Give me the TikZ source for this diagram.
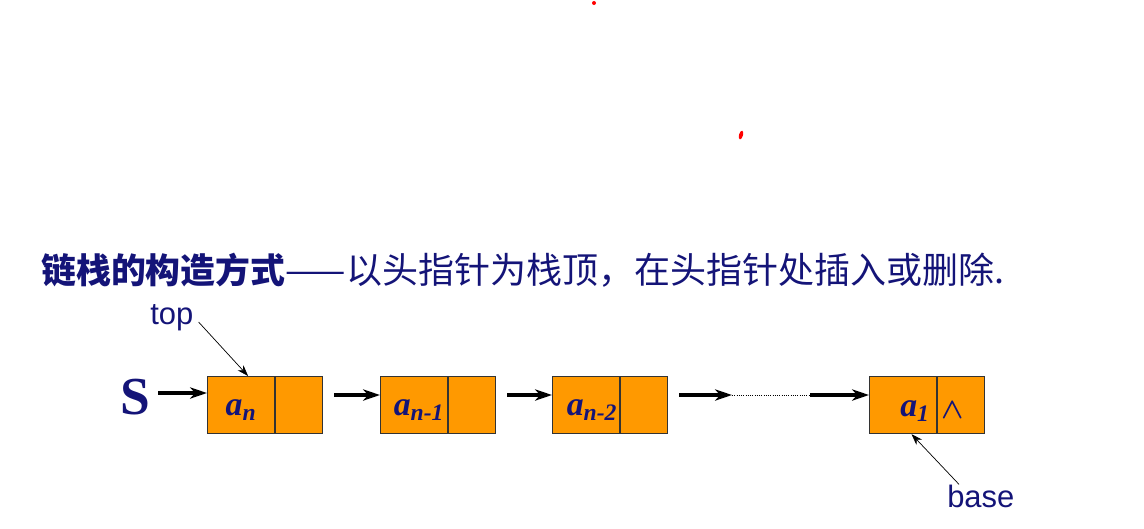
\documentclass[tikz,border=0pt]{standalone}
\usepackage{bm}
\usepackage{fontspec}
\setmainfont{Liberation Serif}
\newfontfamily\cjk{Noto Sans CJK SC}
\newfontfamily\arialfont{Liberation Sans}
\usepackage{xcolor}
\usepackage{tikz}
\usetikzlibrary{arrows.meta,positioning,calc}
\definecolor{navy}{RGB}{20,20,120}
\definecolor{nodeorange}{RGB}{255,153,0}

\begin{document}
\begin{tikzpicture}[x=0.025cm, y=-0.025cm, every node/.style={inner sep=0pt},
  cell/.style={draw=black!80, line width=0.8pt, fill=nodeorange, minimum height=57*0.025cm},
  ptr/.style={line width=2.2pt, -{Stealth[length=12pt,width=8pt,inset=3.5pt]}},
  thinptr/.style={line width=0.5pt, -{Stealth[length=8pt,width=5.5pt]}},
  elem/.style={font=\fontsize{24}{26}\selectfont\bfseries\itshape, text=navy}]
\useasboundingbox (0,0) rectangle (1144,528);
\fill[red] (594,3) circle (2);
\fill[red, rotate around={75:(741,135)}] (741,135) ellipse (4.5 and 2);

\node[anchor=west, text=navy, font=\cjk\fontsize{24.8}{26}\selectfont\bfseries] (title) at (41,270)
  {链栈的构造方式};
\node[anchor=west, text=navy, font=\cjk\fontsize{25.6}{27}\selectfont] (title2) at (title.east)
  {——以头指针为栈顶，在头指针处插入或删除.};

\node[text=navy, font=\fontsize{38}{40}\selectfont\bfseries] (S) at (135,397) {S};

\foreach \i/\x in {1/207,2/380,3/552,4/869} {
  \node[cell, minimum width=67*0.025cm, anchor=north west] (d\i) at (\x,376) {};
  \node[cell, minimum width=47*0.025cm, anchor=west] (p\i) at (d\i.east) {};
}
\node[elem] (an) at (241,410) {a\textsubscript{n}};
\node[elem] (an1) at (419,410) {a\textsubscript{n-1}};
\node[elem] (an2) at (592,410) {a\textsubscript{n-2}};
\node[elem] (a1) at (915,411) {a\textsubscript{1}};
\node[text=navy, font=\fontsize{21}{23}\selectfont] (nil) at (953,410) {$\bm{\wedge}$};

\draw[ptr] (S.east |- 0,393) ++(8,0) -- (d1.west |- 0,393);
\draw[ptr] (p1.east |- 0,395) ++(11,0) -- (d2.west |- 0,395);
\draw[ptr] (p2.east |- 0,395) ++(11,0) -- (d3.west |- 0,395);
\coordinate (dotA) at (732,395);
\coordinate (dotB) at (810,395);
\draw[ptr] (p3.east |- 0,395) ++(11,0) -- (dotA);
\draw[densely dotted, line width=0.6pt] (dotA) -- (dotB);
\draw[ptr] (dotB) -- (d4.west |- 0,395);

\node[anchor=west, text=navy, font=\arialfont\fontsize{22}{24}\selectfont] (toplbl) at (150,318) {top};
\node[anchor=west, text=navy, font=\arialfont\fontsize{22}{24}\selectfont] (baselbl) at (947,496) {base};
\draw[thinptr] (toplbl.east) ++(5,4) -- ([xshift=5pt]d1.north);
\draw[thinptr] (baselbl.north west) ++(12,0) -- ([xshift=6pt]d4.south);
\end{tikzpicture}
\end{document}
